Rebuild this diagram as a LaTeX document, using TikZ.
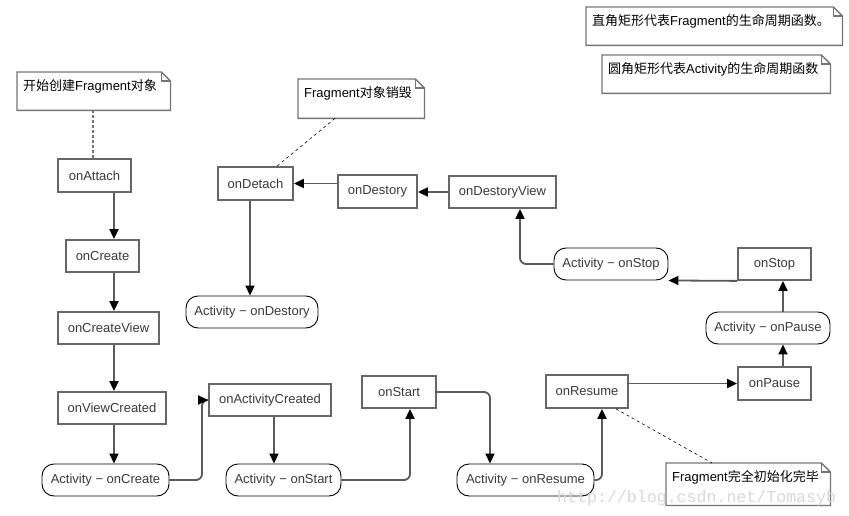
\documentclass[tikz,border=0pt]{standalone}
\usepackage{fontspec}
\setmainfont{Liberation Sans}
\newfontfamily\cjk{Noto Sans CJK SC}
\newfontfamily\wmfont{Liberation Mono}
\usetikzlibrary{arrows.meta}
\definecolor{boxline}{HTML}{666666}
\definecolor{conn}{HTML}{5A5A5A}
\definecolor{txt}{HTML}{3A3A3A}
\definecolor{noteline}{HTML}{757575}
\newcommand\dogear[1]{%
  \draw[noteln] (#1.north west) -- ([xshift=-9pt]#1.north east) -- ([yshift=-9pt]#1.north east) -- (#1.south east) -- (#1.south west) -- cycle;
  \draw[noteln] ([xshift=-9pt]#1.north east) |- ([yshift=-9pt]#1.north east);}
\begin{document}
\begin{tikzpicture}[x=1pt,y=-1pt,
  every node/.style={font=\fontsize{13}{15}\selectfont, text=txt},
  fbox/.style={draw=boxline, line width=1.8pt, fill=white, inner sep=0pt},
  abox/.style={draw=black, line width=0.9pt, rounded corners=12pt, fill=white, inner sep=0pt},
  arr/.style={draw=conn, line width=1.8pt, rounded corners=6pt, -{Triangle[length=10pt,width=9pt,color=black]}},
  note/.style={anchor=north west, inner xsep=6pt, inner ysep=5pt, align=left, text=black, text height=13.5pt},
  noteln/.style={draw=noteline, line width=1.3pt},
  dotln/.style={draw=noteline, line width=1.8pt, dash pattern=on 3pt off 2pt},
  dashln/.style={draw=black, line width=0.6pt, dash pattern=on 3pt off 3pt}
]
\useasboundingbox[fill=white] (0,0) rectangle (849,516);

% Fragment (rectangles)
\node[fbox, minimum width=73pt, minimum height=33pt] (attach) at (94.5,175.5) {onAttach};
\node[fbox, minimum width=73pt, minimum height=32pt] (create) at (102.5,256) {onCreate};
\node[fbox, minimum width=101pt, minimum height=32pt] (createview) at (108.5,328) {onCreateView};
\node[fbox, minimum width=108pt, minimum height=32pt] (viewcreated) at (112,408) {onViewCreated};
\node[fbox, minimum width=122pt, minimum height=32pt] (actcreated) at (270,400) {onActivityCreated};
\node[fbox, minimum width=74pt, minimum height=32pt] (onstart) at (399,392) {onStart};
\node[fbox, minimum width=82pt, minimum height=33pt] (onresume) at (587,391.5) {onResume};
\node[fbox, minimum width=73pt, minimum height=33pt] (onpause) at (774.5,383.5) {onPause};
\node[fbox, minimum width=73pt, minimum height=32pt] (onstop) at (774.5,264) {onStop};
\node[fbox, minimum width=107pt, minimum height=32pt] (destroyview) at (502.5,192) {onDestoryView};
\node[fbox, minimum width=79pt, minimum height=33pt] (destroy) at (377.5,191.5) {onDestory};
\node[fbox, minimum width=75pt, minimum height=33pt] (detach) at (255.5,183.5) {onDetach};

% Activity (rounded)
\node[abox, minimum width=127pt, minimum height=32pt] (actcreate) at (105.5,480) {Activity − onCreate};
\node[abox, minimum width=115pt, minimum height=32pt] (actstart) at (283.5,480) {Activity − onStart};
\node[abox, minimum width=137pt, minimum height=32pt] (actresume) at (525.5,480) {Activity − onResume};
\node[abox, minimum width=124pt, minimum height=32pt] (actpause) at (768,328) {Activity − onPause};
\node[abox, minimum width=114pt, minimum height=32pt] (actstop) at (611,264) {Activity − onStop};
\node[abox, minimum width=132pt, minimum height=32pt] (actdestroy) at (252,312) {Activity − onDestory};

% notes
\node[note, text width=141pt, text depth=14.5pt] (n1) at (17,72) {{\cjk 开始创建}Fragment{\cjk 对象}};
\node[note, text width=114pt, text depth=15.5pt] (n2) at (298,79) {Fragment{\cjk 对象销毁}};
\node[note, text width=152pt, text depth=18.5pt] (n3) at (666,463) {Fragment{\cjk 完全初始化完毕}};
\node[note, text width=244pt, text depth=14.5pt] (l1) at (586,7) {{\cjk 直角矩形代表}Fragment{\cjk 的生命周期函数。}};
\node[note, text width=216pt, text depth=14.5pt] (l2) at (602,55) {{\cjk 圆角矩形代表}Activity{\cjk 的生命周期函数}};
\dogear{n1}
\dogear{n2}
\dogear{n3}
\dogear{l1}
\dogear{l2}

% connectors
\coordinate (colx) at (114,0);
\draw[arr] (colx |- attach.south) -- (colx |- create.north);
\draw[arr] (colx |- create.south) -- (colx |- createview.north);
\draw[arr] (colx |- createview.south) -- (colx |- viewcreated.north);
\draw[arr] (colx |- viewcreated.south) -- (colx |- actcreate.north);
\coordinate (k1) at (202,400);
\draw[arr] (actcreate.east) -| (k1) -- (actcreated.west);
\draw[arr] ([xshift=4pt]actcreated.south) -- ([xshift=4pt]actcreated.south |- actstart.north);
\draw[arr] (actstart.east) -| ([xshift=11pt]onstart.south);
\draw[arr] (onstart.east) -| ([xshift=-35.5pt]actresume.north);
\draw[arr] (actresume.east) -| ([xshift=15pt]onresume.south);
\draw[arr] (onresume.east |- onpause.west) -- (onpause.west);
\draw[arr] ([xshift=8.5pt]onpause.north) -- ([xshift=8.5pt]onpause.north |- actpause.south);
\draw[arr] ([xshift=8.5pt]onstop.south |- actpause.north) -- ([xshift=8.5pt]onstop.south);
\draw[arr] (onstop.south west) -- (actstop.south east);
\draw[arr] (actstop.west) -| ([xshift=17.5pt]destroyview.south);
\draw[arr] (destroyview.west) -- (destroyview.west -| destroy.east);
\draw[arr] (destroy.west |- detach.east) -- (detach.east);
\draw[arr] ([xshift=-5.5pt]detach.south) -- ([xshift=-5.5pt]detach.south |- actdestroy.north);

% note links
\draw[dotln] ([xshift=-0.5pt]n1.south) -- ([xshift=-0.5pt]n1.south |- attach.north);
\draw[dashln] ([xshift=37pt]n2.south west) -- ([xshift=21.5pt]detach.north);
\draw[dashln] ([xshift=29pt]onresume.south) -- ([xshift=46pt]n3.north west);

% watermark
\node[anchor=base west, inner sep=0pt, text=gray!30, font=\wmfont\fontsize{16.6}{18}\selectfont] (wm) at (557,502) {http://blog.csdn.net/Tomasyb};
\end{tikzpicture}
\end{document}
